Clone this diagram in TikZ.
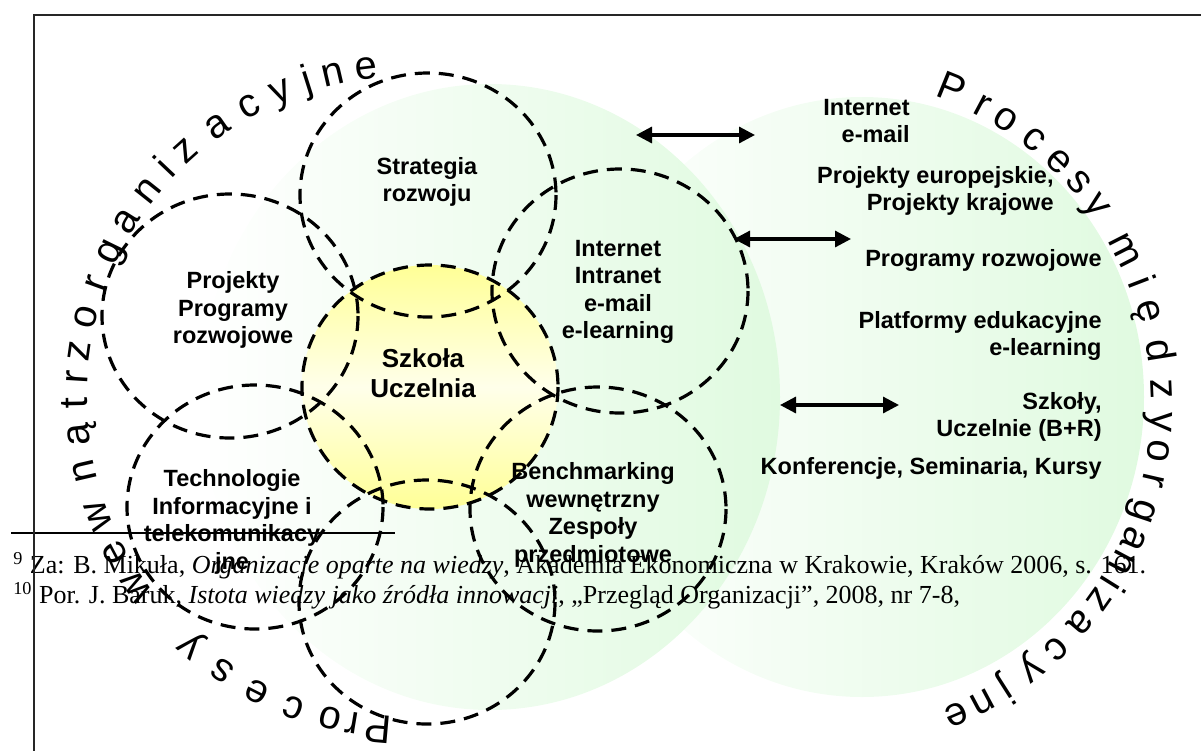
\documentclass[tikz,border=0pt]{standalone}
\usepackage{fontspec}
\setmainfont{Liberation Sans}
\newfontfamily\fnfont{Liberation Serif}
\usetikzlibrary{arrows.meta}
\definecolor{lgreen}{RGB}{224,250,224}
\definecolor{lyellow}{RGB}{255,255,150}

\begin{document}
\begin{tikzpicture}
  [x=0.5pt,y=-0.5pt,
   lbl/.style={font=\bfseries\fontsize{11.75}{13.75}\selectfont,align=center,inner sep=0pt},
   rlbl/.style={font=\bfseries\fontsize{11.75}{13.75}\selectfont,align=right,anchor=east,inner sep=0pt},
   dashring/.style={line width=1.6pt,dash pattern=on 7.5pt off 4.5pt},
   ringch/.style={font=\fontsize{20}{20}\selectfont,anchor=base,inner sep=0pt},
   biarrow/.style={line width=1.6pt,{Triangle[length=8pt,width=8pt]}-{Triangle[length=8pt,width=8pt]}},
   fn/.style={font=\fnfont\fontsize{13}{15}\selectfont,anchor=base west,inner sep=0pt}]
  \useasboundingbox (0,0) rectangle (1201,751);

  % green backgrounds
  \coordinate (gl) at (490,397);
  \coordinate (gr) at (862,397);
  \shade[left color=white,right color=lgreen] (gr) ellipse [x radius=282,y radius=300];
  \shade[left color=white,right color=lgreen] (gl) ellipse [x radius=290,y radius=313];

  % centre disc
  \coordinate (c0) at (430,387);
  \shade[top color=lyellow,bottom color=lyellow,middle color=lyellow!20] (c0) ellipse [x radius=128,y radius=122];

  % dashed circles
  \coordinate (c1) at (428,195);
  \coordinate (c2) at (230,316);
  \coordinate (c3) at (620,291);
  \coordinate (c4) at (255,507);
  \coordinate (c5) at (598,509);
  \coordinate (c6) at (427,602);
  \foreach \c in {c0,c1,c2,c3,c4,c5,c6}
    \draw[dashring] (\c) ellipse [x radius=128,y radius=122];

  \node[lbl] (strat) at (427,182) {Strategia\\rozwoju};
  \node[lbl] (proj) at (233,310) {Projekty\\Programy\\rozwojowe};
  \node[lbl,font=\bfseries\fontsize{13}{15}\selectfont] (szk) at (423,373) {Szkoła\\Uczelnia};
  \node[lbl] (inet) at (618,292) {Internet\\Intranet\\e-mail\\e-learning};
  \node[lbl] (tech) at (232,522) {Technologie\\Informacyjne i\\telekomunikacy\\jne};
  \node[lbl] (bench) at (593,515) {Benchmarking\\wewnętrzny\\Zespoły\\przedmiotowe};

  \node[rlbl] (r1) at (910,121) {Internet\\e-mail};
  \node[rlbl] (r2) at (1054,191) {Projekty europejskie,\\Projekty krajowe};
  \node[rlbl] (r3) at (1102,260) {Programy rozwojowe};
  \node[rlbl] (r4) at (1102,336) {Platformy edukacyjne\\e-learning};
  \node[rlbl] (r5) at (1102,417) {Szkoły,\\Uczelnie (B+R)};
  \node[rlbl] (r6) at (1102,468) {Konferencje, Seminaria, Kursy};

  \coordinate (a1l) at (636,135); \coordinate (a1r) at (755,135);
  \coordinate (a2l) at (734,239); \coordinate (a2r) at (851,239);
  \coordinate (a3l) at (780,405); \coordinate (a3r) at (899,405);
  \foreach \from/\to in {a1l/a1r,a2l/a2r,a3l/a3r}
    \draw[biarrow] (\from) -- (\to);

  % ring texts
  \coordinate (rl) at (407,397);
  \coordinate (rr) at (824,404);
  \foreach \ch/\a [count=\i] in {P/95,r/99.5,o/103.5,c/110,e/117,s/124,y/131,
      w/145,e/152,w/159,n/167,ą/173.5,t/179,r/183.5,z/188,o/194,r/200,g/206,
      a/212,n/218.5,i/223.5,z/228,a/235,c/241.5,y/247.5,j/252.5,n/257,e/263}
    \node[ringch,rotate={-(\a)-90}] (pw\i) at ([shift={(\a:320)}]rl) {\ch};
  \foreach \ch/\a [count=\i] in {P/-68,r/-62,o/-57.5,c/-51.5,e/-46,s/-41,y/-36,
      m/-27,i/-21,ę/-16,d/-9,z/-2.5,y/3,o/8,r/13,g/18.5,a/23.5,n/28,i/32,
      z/35.5,a/40.5,c/46.5,y/52,j/57.5,n/62,e/67}
    \node[ringch,rotate={-(\a)-90}] (pm\i) at ([shift={(\a:327)}]rr) {\ch};

  % footnotes
  \coordinate (fl) at (11,533);
  \coordinate (fr) at (395,533);
  \draw[line width=0.75pt] (fl) -- (fr);
  \node[fn] (fn9) at (13,573) {\textsuperscript{9} Za: B. Mikuła, \textit{Organizacje oparte na wiedzy}, Akademia Ekonomiczna w Krakowie, Kraków 2006, s. 161.};
  \node[fn] (fn10) at (13,603) {\textsuperscript{10} Por. J. Baruk, \textit{Istota wiedzy jako źródła innowacji}, „Przegląd Organizacji”, 2008, nr 7-8,};

  % frame
  \draw[line width=1pt,black!85] (33,15) -- (1201,15);
  \draw[line width=1pt,black!85] (34,15) -- (34,751);
\end{tikzpicture}
\end{document}
